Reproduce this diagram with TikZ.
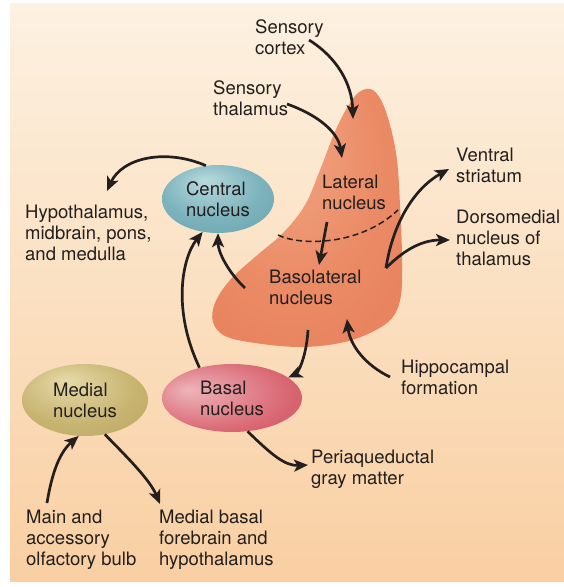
\documentclass[tikz,border=0pt]{standalone}
\usepackage{fontspec}
\setmainfont{TeX Gyre Heros}
\usetikzlibrary{arrows.meta,shapes.geometric}
\usepackage{xcolor}
\definecolor{ink}{HTML}{231F1E}
\definecolor{paperhi}{HTML}{FDF1E1}
\definecolor{paperlo}{HTML}{F9CFA2}
\definecolor{tealhi}{HTML}{B9DADE}
\definecolor{tealmid}{HTML}{7DB3BD}
\definecolor{tealdk}{HTML}{5E9AA6}
\definecolor{olivehi}{HTML}{E6DAA8}
\definecolor{olivemid}{HTML}{C8B471}
\definecolor{olivedk}{HTML}{B39F58}
\definecolor{redhi}{HTML}{EEB4BA}
\definecolor{redmid}{HTML}{DA6A76}
\definecolor{reddk}{HTML}{CC3A4C}
\definecolor{salmonhi}{HTML}{F3AA88}
\definecolor{salmon}{HTML}{EB8C67}
\definecolor{salmondk}{HTML}{E47953}
\pgfdeclareradialshading{tealball}{\pgfpoint{-6bp}{14bp}}{color(0bp)=(tealhi); color(22bp)=(tealmid); color(50bp)=(tealdk)}
\pgfdeclareradialshading{oliveball}{\pgfpoint{-8bp}{14bp}}{color(0bp)=(olivehi); color(24bp)=(olivemid); color(50bp)=(olivedk)}
\pgfdeclareradialshading{redball}{\pgfpoint{-16bp}{6bp}}{color(0bp)=(redhi); color(26bp)=(redmid); color(50bp)=(reddk)}
\pgfdeclareradialshading{salmonblob}{\pgfpoint{-8bp}{18bp}}{color(0bp)=(salmonhi); color(22bp)=(salmon); color(50bp)=(salmondk)}
\newcommand{\txt}{\fontsize{18.5}{21}\selectfont}
\tikzset{
  lbl/.style={align=left, anchor=west, inner sep=0pt, font=\txt, text=ink},
  nucleus/.style={ellipse, inner sep=0pt, align=left, font=\txt, text=ink},
  ar/.style={-{Stealth[length=14pt,width=12pt,inset=3.5pt]}, line width=2.7pt, draw=ink},
  border/.style={dash pattern=on 6pt off 3.5pt, line width=1.5pt, draw=ink}
}
\begin{document}
\begin{tikzpicture}[x=1pt,y=-1pt]
  \useasboundingbox (0,0) rectangle (564,587);
  \shade[top color=paperhi, bottom color=paperlo] (10,3) rectangle (564,581);

  % amygdala body (lateral + basolateral)
  \shade[shading=salmonblob] plot[smooth cycle, tension=0.6] coordinates {
    (370,89) (355,96) (337,127) (320,170) (305,205) (283,233) (255,257)
    (230,280) (215,303) (213,322) (225,336) (255,343) (300,347) (340,343)
    (370,333) (392,318) (401,295) (402,255) (400,205) (397,160) (390,125) (381,100)};
  \draw[border] (278,235) .. controls (300,246) and (360,246) .. (398,210);

  % nuclei
  \node[nucleus, shading=tealball, minimum width=112pt, minimum height=68pt] (central) at (218,199) {Central\\nucleus};
  \node[nucleus, shading=oliveball, minimum width=126pt, minimum height=72pt] (medial) at (85,400) {Medial\\nucleus};
  \node[nucleus, shading=redball, minimum width=140pt, minimum height=68pt] (basal) at (232,398) {Basal\\nucleus};
  \node[lbl] (lateral) at (322,192) {Lateral\\nucleus};
  \node[lbl] (baso) at (269,287) {Basolateral\\nucleus};

  % inputs and outputs
  \node[lbl] (cortex) at (255,37) {Sensory\\cortex};
  \node[lbl] (thal) at (213,98) {Sensory\\thalamus};
  \node[lbl] (hypo) at (25,233) {Hypothalamus,\\midbrain, pons,\\and medulla};
  \node[lbl] (ventral) at (456,165) {Ventral\\striatum};
  \node[lbl] (dorso) at (456,238) {Dorsomedial\\nucleus of\\thalamus};
  \node[lbl] (hippo) at (401,377) {Hippocampal\\formation};
  \node[lbl] (peri) at (311,469) {Periaqueductal\\gray matter};
  \node[lbl] (olf) at (26,540) {Main and\\accessory\\olfactory bulb};
  \node[lbl] (mbf) at (159,540) {Medial basal\\forebrain and\\hypothalamus};

  % free arrow ends
  \coordinate (ctxout) at (309,40);
  \coordinate (thalout) at (287,104);
  \coordinate (latin1) at (353,119);
  \coordinate (latin2) at (342,158);
  \coordinate (latout) at (327,222);
  \coordinate (basoin) at (319,265);
  \coordinate (basoout1) at (245,288);
  \coordinate (basoout2) at (386,268);
  \coordinate (basoout3) at (308,330);
  \coordinate (basoin2) at (347,319);
  \coordinate (hypoin) at (107,191);
  \coordinate (ventin) at (449,169);
  \coordinate (dorsoin) at (450,240);
  \coordinate (hippoout) at (390,377);
  \coordinate (periin) at (308,465);
  \coordinate (olfout) at (47,503);
  \coordinate (mbfin) at (160,504);

  \draw[ar] (ctxout) .. controls (338,58) and (352,85) .. (latin1);
  \draw[ar] (thalout) .. controls (318,115) and (338,132) .. (latin2);
  \draw[ar] (latout) -- (basoin);
  \draw[ar] (basoout1) .. controls (228,272) and (218,252) .. (central.south);
  \draw[ar] (basal.137) .. controls (172,310) and (182,258) .. (central.-115);
  \draw[ar] (central.110) .. controls (165,148) and (122,158) .. (hypoin);
  \draw[ar] (basoout2) .. controls (393,222) and (415,188) .. (ventin);
  \draw[ar] (basoout2) .. controls (402,252) and (420,240) .. (dorsoin);
  \draw[ar] (basoout3) .. controls (306,362) and (296,374) .. (basal.20);
  \draw[ar] (hippoout) .. controls (365,365) and (350,345) .. (basoin2);
  \draw[ar] (basal.-65) .. controls (272,455) and (285,466) .. (periin);
  \draw[ar] (olfout) .. controls (52,472) and (60,452) .. (medial.-100);
  \draw[ar] (medial.-60) .. controls (128,458) and (150,480) .. (mbfin);
\end{tikzpicture}
\end{document}
